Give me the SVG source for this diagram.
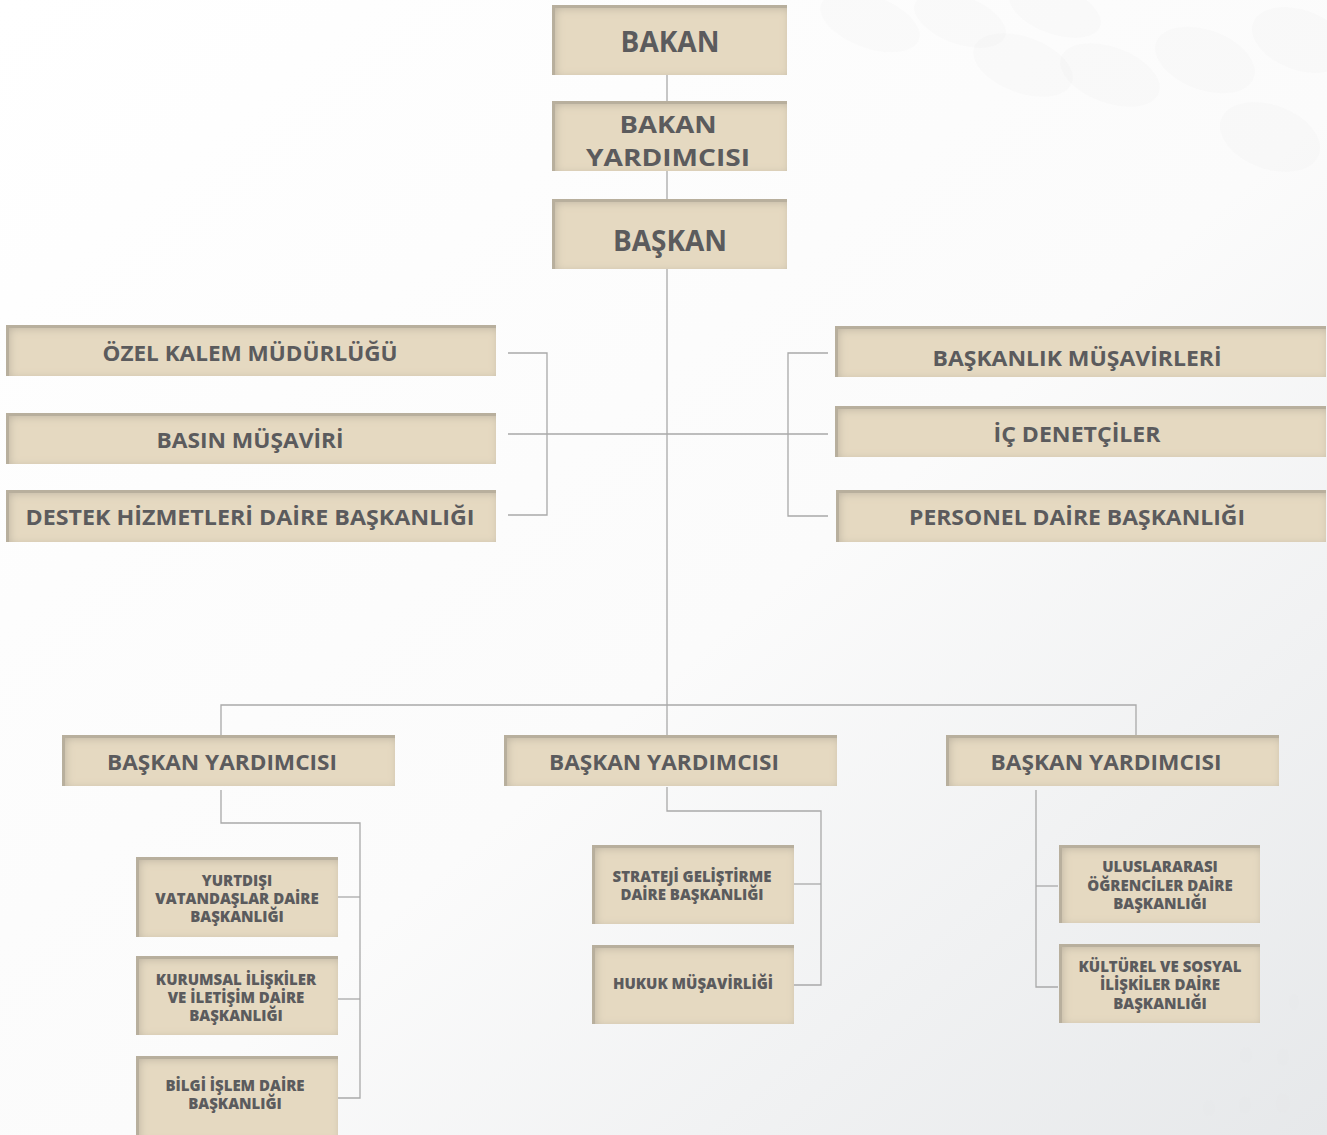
<svg xmlns="http://www.w3.org/2000/svg" width="1327" height="1135" viewBox="0 0 1327 1135">
<defs>
<linearGradient id="bg" x1="0" y1="0" x2="1" y2="1">
<stop offset="0" stop-color="#ffffff"/>
<stop offset="0.55" stop-color="#fbfbfb"/>
<stop offset="1" stop-color="#e6e8ea"/>
</linearGradient>
<filter id="inset" x="0" y="0" width="1" height="1">
<feGaussianBlur in="SourceAlpha" stdDeviation="5" result="blur"/>
<feOffset in="blur" dx="3" dy="3" result="off"/>
<feComposite in="SourceAlpha" in2="off" operator="out" result="edge"/>
<feFlood flood-color="#8f897f" flood-opacity="0.6"/>
<feComposite in2="edge" operator="in" result="shadow"/>
<feMerge><feMergeNode in="SourceGraphic"/><feMergeNode in="shadow"/></feMerge>
</filter>
<style>
.box{fill:#e5d9c1;filter:url(#inset)}
.t{font-family:"Open Sans","Liberation Sans",sans-serif;font-weight:700;fill:#5b5b5d;text-anchor:middle}
.xl{font-size:28px}
.md{font-size:24px}
.lg{font-size:22px}
.sm{font-size:15px;font-weight:800}
.ln{fill:none;stroke:#a9a9a9;stroke-width:1.3}
.dot{fill:#e3e5e8;opacity:0.12}
</style>
</defs>
<rect width="1327" height="1135" fill="url(#bg)"/>
<g id="decor">
<ellipse class="dot" cx="870" cy="22" rx="52" ry="26" transform="rotate(20 870 22)"/>
<ellipse class="dot" cx="960" cy="20" rx="48" ry="24" transform="rotate(20 960 20)"/>
<ellipse class="dot" cx="1055" cy="10" rx="48" ry="24" transform="rotate(20 1055 10)"/>
<ellipse class="dot" cx="1110" cy="75" rx="52" ry="28" transform="rotate(20 1110 75)"/>
<ellipse class="dot" cx="1205" cy="60" rx="52" ry="30" transform="rotate(20 1205 60)"/>
<ellipse class="dot" cx="1300" cy="40" rx="50" ry="30" transform="rotate(20 1300 40)"/>
<ellipse class="dot" cx="1270" cy="137" rx="52" ry="32" transform="rotate(20 1270 137)"/>
<ellipse class="dot" cx="1023" cy="65" rx="52" ry="28" transform="rotate(20 1023 65)"/>
<ellipse class="dot" cx="1245" cy="1105" rx="6" ry="9"/>
<ellipse class="dot" cx="1283" cy="1103" rx="7" ry="10"/>
<ellipse class="dot" cx="1209" cy="1108" rx="6" ry="8"/>
<ellipse class="dot" cx="1246" cy="1055" rx="6" ry="8"/>
<ellipse class="dot" cx="1283" cy="1057" rx="6" ry="9"/>
<ellipse class="dot" cx="1294" cy="1002" rx="5" ry="8"/>
</g>
<g id="connectors">
<path class="ln" d="M667 75 V705"/>
<path class="ln" d="M508 434 H828"/>
<path class="ln" d="M508 353 H547 V515 H508"/>
<path class="ln" d="M828 353 H788 V516 H828"/>
<path class="ln" d="M221 735 V705 H1136 V735"/>
<path class="ln" d="M667 705 V735"/>
<path class="ln" d="M221 790 V823 H360 V1098 H338"/>
<path class="ln" d="M338 897 H360"/>
<path class="ln" d="M338 999 H360"/>
<path class="ln" d="M667 787 V811 H821 V985 H794"/>
<path class="ln" d="M794 884 H821"/>
<path class="ln" d="M1036 790 V987 H1058"/>
<path class="ln" d="M1036 886 H1058"/>
</g>
<g id="bakan"><rect class="box" x="552" y="5" width="235" height="70"/><text class="t xl" x="670" y="52">BAKAN</text></g>
<g id="bakan-yardimcisi"><rect class="box" x="552" y="101" width="235" height="70"/><text class="t md" x="668" y="133" textLength="97" lengthAdjust="spacingAndGlyphs">BAKAN</text><text class="t md" x="668" y="166" textLength="164" lengthAdjust="spacingAndGlyphs">YARDIMCISI</text></g>
<g id="baskan"><rect class="box" x="552" y="199" width="235" height="70"/><text class="t xl" x="670" y="251">BAŞKAN</text></g>
<g id="ozel-kalem"><rect class="box" x="6" y="325" width="490" height="51"/><text class="t lg" x="250" y="361" textLength="295" lengthAdjust="spacingAndGlyphs">ÖZEL KALEM MÜDÜRLÜĞÜ</text></g>
<g id="basin"><rect class="box" x="6" y="413" width="490" height="51"/><text class="t lg" x="250" y="448" textLength="187" lengthAdjust="spacingAndGlyphs">BASIN MÜŞAVİRİ</text></g>
<g id="destek"><rect class="box" x="6" y="490" width="490" height="52"/><text class="t lg" x="250" y="525" textLength="449" lengthAdjust="spacingAndGlyphs">DESTEK HİZMETLERİ DAİRE BAŞKANLIĞI</text></g>
<g id="baskanlik-musavirleri"><rect class="box" x="835" y="326" width="491" height="51"/><text class="t lg" x="1077" y="366" textLength="289" lengthAdjust="spacingAndGlyphs">BAŞKANLIK MÜŞAVİRLERİ</text></g>
<g id="ic-denetciler"><rect class="box" x="835" y="406" width="491" height="51"/><text class="t lg" x="1077" y="442" textLength="167" lengthAdjust="spacingAndGlyphs">İÇ DENETÇİLER</text></g>
<g id="personel"><rect class="box" x="836" y="490" width="490" height="52"/><text class="t lg" x="1077" y="525" textLength="336" lengthAdjust="spacingAndGlyphs">PERSONEL DAİRE BAŞKANLIĞI</text></g>
<g id="by-left"><rect class="box" x="62" y="735" width="333" height="51"/><text class="t lg" x="222" y="770" textLength="230" lengthAdjust="spacingAndGlyphs">BAŞKAN YARDIMCISI</text></g>
<g id="by-middle"><rect class="box" x="504" y="735" width="333" height="51"/><text class="t lg" x="664" y="770" textLength="230" lengthAdjust="spacingAndGlyphs">BAŞKAN YARDIMCISI</text></g>
<g id="by-right"><rect class="box" x="946" y="735" width="333" height="51"/><text class="t lg" x="1106" y="770" textLength="231" lengthAdjust="spacingAndGlyphs">BAŞKAN YARDIMCISI</text></g>
<g id="yurtdisi"><rect class="box" x="136" y="857" width="202" height="80"/><text class="t sm" x="237" y="886">YURTDIŞI</text><text class="t sm" x="237" y="904">VATANDAŞLAR DAİRE</text><text class="t sm" x="237" y="922">BAŞKANLIĞI</text></g>
<g id="kurumsal"><rect class="box" x="136" y="956" width="202" height="79"/><text class="t sm" x="236" y="985">KURUMSAL İLİŞKİLER</text><text class="t sm" x="236" y="1003">VE İLETİŞİM DAİRE</text><text class="t sm" x="236" y="1021">BAŞKANLIĞI</text></g>
<g id="bilgi-islem"><rect class="box" x="136" y="1056" width="202" height="85"/><text class="t sm" x="235" y="1091">BİLGİ İŞLEM DAİRE</text><text class="t sm" x="235" y="1109">BAŞKANLIĞI</text></g>
<g id="strateji"><rect class="box" x="592" y="845" width="202" height="79"/><text class="t sm" x="692" y="882">STRATEJİ GELİŞTİRME</text><text class="t sm" x="692" y="900">DAİRE BAŞKANLIĞI</text></g>
<g id="hukuk"><rect class="box" x="592" y="945" width="202" height="79"/><text class="t sm" x="693" y="989">HUKUK MÜŞAVİRLİĞİ</text></g>
<g id="uluslararasi"><rect class="box" x="1059" y="845" width="201" height="78"/><text class="t sm" x="1160" y="872">ULUSLARARASI</text><text class="t sm" x="1160" y="891">ÖĞRENCİLER DAİRE</text><text class="t sm" x="1160" y="909">BAŞKANLIĞI</text></g>
<g id="kulturel"><rect class="box" x="1059" y="944" width="201" height="79"/><text class="t sm" x="1160" y="972">KÜLTÜREL VE SOSYAL</text><text class="t sm" x="1160" y="990">İLİŞKİLER DAİRE</text><text class="t sm" x="1160" y="1009">BAŞKANLIĞI</text></g>
</svg>
